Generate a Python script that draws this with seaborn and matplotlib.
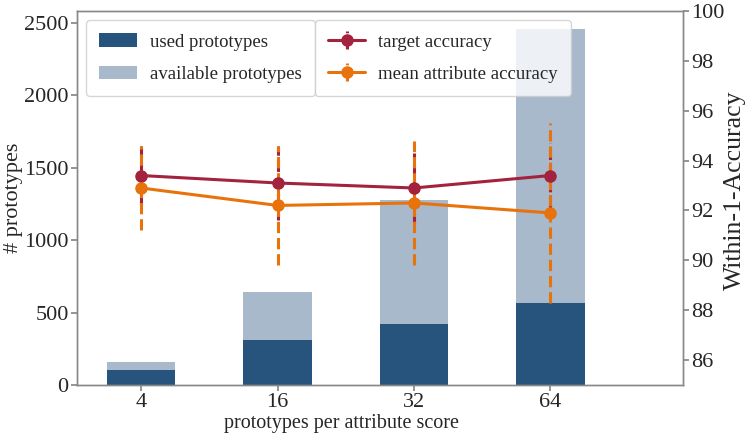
import numpy as np
import pandas as pd
import matplotlib
matplotlib.use("Agg")
import matplotlib.pyplot as plt
import seaborn as sns

categories = ["4", "16", "32", "64"]
available = [160, 640, 1280, 2460]
used = [105, 310, 420, 565]
target_acc = [93.4, 93.1, 92.9, 93.4]
target_err = [1.2, 1.5, 1.4, 1.3]
attr_acc = [92.9, 92.2, 92.3, 91.9]
attr_err = [1.7, 2.4, 2.5, 3.6]

sns.set_theme(style="white")
plt.rcParams["font.family"] = ["Liberation Serif", "DejaVu Serif"]

fig = plt.figure(figsize=(7.47, 4.37), dpi=100)
ax = fig.add_axes([0.103, 0.119, 0.811, 0.856])

df = pd.DataFrame({"k": categories, "available": available, "used": used})
sns.barplot(data=df, x="k", y="available", color="#a8b9cb", saturation=1,
            width=0.5, ax=ax, label="available prototypes", linewidth=0)
sns.barplot(data=df, x="k", y="used", color="#27547c", saturation=1,
            width=0.5, ax=ax, label="used prototypes", linewidth=0)
h, l = ax.get_legend_handles_labels()
if ax.get_legend() is not None:
    ax.get_legend().remove()
ax.set_xlim(-0.47, 3.97)
ax.set_xlabel("prototypes per attribute score", fontsize=14.5, labelpad=1)
ax.xaxis.label.set_x(0.437)
ax.set_ylabel("# prototypes", fontsize=16, labelpad=1)
ax.tick_params(axis="both", labelsize=16, length=4, color="#888888", left=True, bottom=True, pad=2)

ax2 = ax.twinx()
pos = np.arange(len(categories))
e1 = ax2.errorbar(pos, target_acc, yerr=target_err, color="#a3223d", marker="o",
                  markersize=8, linewidth=2.2, elinewidth=2.2, label="target accuracy")
e1[2][0].set_linestyle("--")
e2 = ax2.errorbar(pos, attr_acc, yerr=attr_err, color="#e8720c", marker="o",
                  markersize=8, linewidth=2.2, elinewidth=2.2, label="mean attribute accuracy")
e2[2][0].set_linestyle("--")
ax2.set_ylim(85, 100)
ax2.set_ylabel("Within-1-Accuracy", fontsize=18.5, labelpad=0)
ax2.yaxis.label.set_y(0.52)
ax2.tick_params(axis="y", labelsize=16, length=4, color="#888888", right=True, pad=2)

for a in (ax, ax2):
    for s in a.spines.values():
        s.set_color("#888888")
        s.set_linewidth(1.0)

order = [l.index("used prototypes"), l.index("available prototypes")]
leg_kw = dict(fontsize=13.5, labelspacing=0.8, borderpad=0.7, handletextpad=0.7)
leg1 = ax2.legend([h[i] for i in order], [l[i] for i in order], loc="upper left", **leg_kw)
ax2.add_artist(leg1)
ax2.legend(loc="upper left", bbox_to_anchor=(0.377, 1.0), **leg_kw)

fig.savefig("out.png", dpi=100)
